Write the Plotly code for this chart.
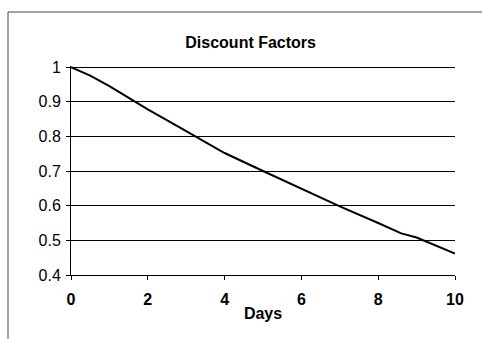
import plotly.graph_objects as go

days = [0, 0.5, 1, 2, 3, 4, 5, 6, 7, 8, 8.6, 9, 10]
factors = [1.0, 0.975, 0.945, 0.878, 0.815, 0.752, 0.70, 0.648, 0.598, 0.55, 0.52, 0.508, 0.462]

x_ticks = [0, 2, 4, 6, 8, 10]
x_tick_text = ["<b>0</b>", "<b>2</b>", "<b>4</b>", "<b>6</b>", "<b>8</b>", "<b>10</b>"]
y_ticks = [0.4, 0.5, 0.6, 0.7, 0.8, 0.9, 1]
y_tick_text = ["0.4", "0.5", "0.6", "0.7", "0.8", "0.9", "1"]

fig = go.Figure()
fig.add_trace(go.Scatter(x=days, y=factors, mode="lines",
                         line=dict(color="black", width=2), showlegend=False))

font = dict(family="Liberation Sans, Arial, sans-serif", color="black")

fig.update_layout(
    width=482, height=339,
    margin=dict(l=71, r=27, t=66, b=64),
    paper_bgcolor="white", plot_bgcolor="white",
    title=dict(text="<b>Discount Factors</b>", x=0.52, xanchor="center",
               y=1 - 42 / 339, yanchor="middle", yref="container",
               font=dict(size=16, **font)),
    xaxis=dict(range=[0, 10], tickvals=x_ticks, ticktext=x_tick_text,
               showgrid=False, zeroline=False,
               showline=True, linecolor="black", linewidth=1,
               ticks="outside", ticklen=4, tickcolor="black",
               ticklabelstandoff=6,
               tickfont=dict(size=16, **font),
               title=dict(text="<b>Days</b>", font=dict(size=16, **font), standoff=0)),
    yaxis=dict(range=[0.4, 1.003], tickvals=y_ticks, ticktext=y_tick_text,
               showgrid=True, gridcolor="black", gridwidth=1, zeroline=False,
               showline=True, linecolor="black", linewidth=1,
               ticks="outside", ticklen=4, tickcolor="black",
               ticklabelstandoff=2,
               tickfont=dict(size=16, **font)),
    shapes=[
        dict(type="line", xref="paper", yref="paper",
             x0=(8 - 71) / 384, x1=(482 - 71) / 384,
             y0=(275 - 12) / 209, y1=(275 - 12) / 209,
             line=dict(color="#444", width=1)),
        dict(type="line", xref="paper", yref="paper",
             x0=(8 - 71) / 384, x1=(8 - 71) / 384,
             y0=(275 - 12) / 209, y1=(275 - 339) / 209,
             line=dict(color="#444", width=1)),
    ],
)

fig.write_html("out.html")
